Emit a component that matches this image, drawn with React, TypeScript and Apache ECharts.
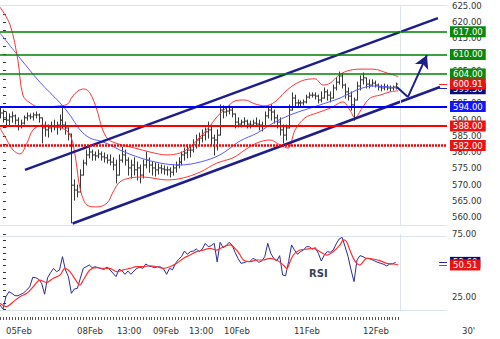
import React, { useEffect, useRef } from 'react';
import * as echarts from 'echarts';

// ---------- DATA ----------
const FIRST_HOUR = -1; // hourly bars, hour 0 = 05Feb 00:00 (trading hours)
const barHighs = [
  593.5, 592.9, 592.3, 591.7, 592.3, 591.4, 590.5, 589.8, 591.1, 592.0,
  591.7, 592.0, 592.3, 591.7, 590.5, 589.2, 588.3, 589.2, 589.8, 589.2,
  591.4, 594.2, 589.2, 587.4, 585.5, 571.4, 569.8, 574.5, 577.5, 580.6,
  581.2, 580.6, 580.0, 580.6, 580.0, 579.7, 579.1, 579.1, 578.2, 577.5,
  579.1, 581.5, 580.6, 578.2, 577.5, 578.2, 576.9, 576.0, 577.5, 580.0,
  578.2, 576.9, 576.6, 576.3, 576.0, 575.7, 575.4, 575.1, 576.0, 576.9,
  578.2, 580.0, 581.2, 582.2, 581.8, 583.7, 585.2, 585.8, 586.8, 587.4,
  589.2, 588.3, 585.2, 586.8, 594.5, 594.2, 593.5, 594.2, 593.5, 591.7,
  590.5, 589.8, 590.5, 589.8, 589.5, 589.8, 590.5, 589.8, 589.2, 592.3,
  594.2, 594.5, 592.9, 591.4, 590.5, 588.3, 588.3, 594.5, 598.2, 597.5,
  596.0, 595.7, 596.0, 597.5, 598.2, 598.2, 598.2, 597.5, 598.5, 599.7,
  599.1, 598.5, 600.6, 602.8, 604.6, 604.0, 600.9, 599.7, 598.5, 596.6,
  601.5, 603.4, 604.3, 602.8, 602.2, 602.2, 601.8, 600.9, 600.6, 600.9,
  600.6, 600.3, 600.3, 601.2,
];
const barLows = [
  590.5, 589.2, 587.7, 588.3, 589.2, 588.6, 586.8, 587.4, 588.6, 589.8,
  590.2, 589.8, 590.5, 589.2, 582.8, 584.9, 584.6, 586.2, 586.8, 585.5,
  586.8, 587.4, 585.5, 583.7, 558.2, 565.2, 566.2, 567.7, 572.9, 576.0,
  578.2, 577.5, 577.5, 578.2, 577.5, 576.9, 576.6, 576.0, 574.5, 570.5,
  572.9, 576.9, 576.0, 572.9, 572.0, 572.9, 571.4, 570.5, 572.0, 575.1,
  573.8, 572.9, 572.6, 573.2, 573.5, 573.2, 572.9, 572.3, 572.9, 573.8,
  575.1, 576.0, 577.5, 578.2, 578.5, 580.0, 581.2, 582.2, 583.1, 583.7,
  584.3, 582.2, 579.1, 580.6, 585.2, 590.5, 591.1, 591.7, 590.8, 587.4,
  587.7, 587.7, 588.3, 587.4, 587.4, 588.0, 588.0, 586.8, 586.5, 588.3,
  590.5, 589.8, 588.9, 587.4, 585.2, 582.8, 583.7, 587.4, 592.9, 593.8,
  594.2, 594.2, 594.5, 595.1, 596.6, 596.9, 596.3, 595.1, 595.4, 596.6,
  596.0, 595.4, 596.6, 599.1, 600.9, 599.7, 596.6, 596.0, 592.9, 589.8,
  596.0, 599.1, 600.9, 599.7, 599.7, 600.3, 600.0, 599.1, 598.8, 599.1,
  599.1, 598.8, 599.1, 599.4,
];
const barCloses = [
  592.0, 590.5, 589.8, 590.8, 591.1, 589.8, 588.0, 588.9, 590.5, 591.1,
  590.8, 591.4, 591.4, 590.5, 587.4, 586.8, 587.4, 588.0, 587.7, 588.3,
  589.8, 588.3, 587.4, 585.5, 569.8, 568.3, 567.7, 572.9, 576.6, 579.1,
  580.0, 579.1, 578.8, 579.4, 578.5, 578.2, 577.5, 576.9, 576.0, 572.9,
  577.5, 579.1, 577.5, 575.1, 576.0, 574.5, 575.1, 572.9, 576.0, 577.5,
  576.0, 575.1, 574.5, 575.1, 574.8, 574.5, 574.5, 573.8, 575.1, 576.0,
  576.9, 579.1, 579.7, 580.6, 580.6, 582.2, 583.7, 584.3, 585.2, 586.2,
  586.8, 584.3, 583.7, 585.2, 592.9, 592.3, 592.6, 592.9, 591.7, 589.2,
  588.6, 589.2, 589.5, 588.6, 588.3, 588.9, 588.6, 588.3, 588.0, 591.1,
  592.9, 592.3, 590.5, 589.2, 586.8, 585.2, 587.4, 592.9, 596.6, 595.1,
  595.1, 595.1, 595.4, 596.9, 597.5, 597.5, 597.2, 596.0, 596.6, 598.5,
  597.5, 596.6, 599.7, 601.5, 603.4, 600.6, 598.5, 597.2, 594.5, 596.0,
  600.3, 602.2, 602.8, 600.9, 600.6, 601.2, 600.6, 600.0, 599.7, 600.0,
  599.7, 599.7, 600.0, 600.91,
];
const rsiValues = [
  18.3, 15.1, 25.0, 29.0, 27.7, 25.8, 25.8, 26.9, 28.2, 30.4,
  33.0, 40.6, 40.3, 39.0, 35.7, 27.0, 40.3, 44.3, 47.8, 45.1,
  46.5, 57.2, 46.5, 41.1, 27.7, 31.2, 31.7, 39.8, 47.8, 49.1,
  50.5, 48.3, 49.1, 48.3, 47.5, 47.0, 48.9, 46.5, 43.8, 41.1,
  47.0, 45.9, 43.0, 45.6, 43.0, 45.6, 47.8, 48.6, 47.8, 51.3,
  49.7, 49.1, 48.3, 49.1, 48.9, 47.3, 43.0, 47.8, 46.7, 51.8,
  55.0, 57.2, 61.7, 59.1, 61.2, 61.7, 63.3, 61.2, 63.3, 67.9,
  65.2, 66.0, 67.9, 53.0, 68.7, 64.4, 66.0, 68.7, 66.6, 60.7,
  55.8, 51.8, 52.4, 53.2, 53.2, 55.8, 54.8, 52.6, 53.7, 57.2,
  67.9, 59.9, 55.8, 53.7, 58.0, 42.4, 41.9, 53.2, 66.6, 62.5,
  59.1, 61.2, 62.5, 65.2, 65.2, 63.3, 64.4, 59.9, 53.7, 58.5,
  61.2, 60.7, 62.5, 67.4, 71.4, 72.7, 65.2, 57.2, 46.5, 37.1,
  54.5, 58.0, 57.2, 55.8, 55.8, 54.8, 53.7, 52.6, 51.8, 51.0,
  49.7, 51.3, 51.5, 52.6,
];
const rsiSignal = [
  [-1.0, 19.7], [1.2, 17.0], [3.5, 21.0], [5.7, 25.0], [8.0, 27.7], [10.2, 33.0],
  [12.4, 38.4], [14.7, 36.5], [16.9, 39.8], [19.2, 42.4], [20.8, 47.8], [22.5, 45.1],
  [24.8, 37.1], [25.9, 34.4], [27.0, 38.4], [29.2, 46.5], [31.5, 48.3], [33.7, 47.8],
  [35.9, 47.8], [38.2, 45.1], [40.4, 46.5], [42.7, 47.8], [44.9, 49.1], [47.2, 49.1],
  [49.4, 49.9], [51.7, 49.1], [53.9, 47.8], [56.1, 49.1], [58.4, 51.8], [60.6, 55.8],
  [62.9, 58.5], [65.1, 61.2], [67.3, 62.5], [69.6, 63.9], [71.8, 62.5], [74.1, 65.2],
  [76.3, 66.6], [78.5, 62.5], [79.7, 58.5], [80.8, 54.5], [83.0, 53.2], [85.3, 54.5],
  [87.5, 54.5], [89.8, 55.8], [92.0, 54.5], [94.2, 50.5], [95.4, 47.8], [96.5, 53.2],
  [97.6, 58.5], [99.8, 62.5], [102.1, 63.3], [104.3, 63.9], [106.6, 61.2], [108.8, 58.5],
  [111.0, 61.2], [113.3, 66.6], [114.4, 70.6], [115.5, 69.2], [116.6, 62.5], [117.8, 55.8],
  [118.9, 51.8], [120.0, 50.5], [121.1, 53.2], [122.2, 55.8], [124.5, 55.3], [126.7, 54.0],
  [129.0, 51.8], [131.2, 51.3], [132.9, 50.51],
];
const maLine = [
  [-1.0, 616.6], [5.7, 608.9], [12.4, 601.5], [19.2, 595.1], [22.5, 591.4], [25.9, 586.8],
  [29.2, 584.3], [32.6, 583.4], [36.0, 582.2], [39.3, 580.6], [46.1, 578.2], [52.8, 576.6],
  [59.5, 576.0], [66.2, 576.9], [72.9, 579.1], [79.7, 583.4], [85.4, 585.8], [90.8, 588.9],
  [96.5, 591.4], [102.2, 593.2], [107.6, 594.8], [113.3, 596.6], [119.0, 599.1],
  [124.4, 600.3], [130.1, 600.0], [132.9, 599.5],
];
const bandUpper = [
  [-1.0, 624.6], [2.4, 619.1], [5.0, 608.3], [6.7, 597.5], [9.1, 595.1], [12.4, 593.8],
  [19.2, 594.2], [21.8, 594.8], [23.2, 596.9], [25.2, 598.8], [27.2, 599.4], [29.2, 598.2],
  [31.6, 592.9], [33.3, 587.4], [35.3, 584.0], [38.7, 582.5], [44.4, 581.2], [49.4, 580.0],
  [55.1, 579.1], [59.5, 579.7], [62.9, 581.5], [66.2, 584.6], [69.6, 588.0], [71.9, 590.8],
  [75.3, 593.8], [78.0, 595.7], [81.3, 596.0], [84.7, 594.8], [88.1, 594.2], [91.4, 595.4],
  [94.8, 598.5], [98.2, 600.9], [101.5, 602.2], [104.9, 602.5], [107.6, 600.6], [110.0, 601.2],
  [112.6, 603.4], [115.6, 604.9], [120.0, 605.5], [124.4, 605.5], [129.1, 604.3], [132.9, 603.2],
];
const bandLower = [
  [-1.0, 587.4], [1.3, 583.7], [3.4, 580.6], [5.7, 579.4], [8.1, 582.8], [10.1, 586.8],
  [13.4, 588.3], [18.2, 587.7], [21.5, 586.5], [23.2, 583.7], [24.5, 577.5], [25.9, 568.9],
  [28.2, 563.7], [31.6, 563.1], [35.0, 564.3], [37.0, 567.7], [39.3, 570.8], [42.7, 572.0],
  [47.1, 572.3], [55.1, 571.4], [60.5, 572.0], [66.2, 573.8], [71.9, 576.6], [77.3, 578.2],
  [81.3, 580.6], [85.4, 582.8], [89.7, 583.7], [93.1, 582.2], [95.8, 581.2], [98.2, 586.8],
  [101.5, 590.5], [105.5, 592.0], [110.0, 593.5], [114.3, 595.4], [116.6, 592.9], [118.3, 590.5],
  [120.7, 593.5], [123.4, 596.6], [126.7, 597.5], [130.1, 598.5], [132.9, 598.8],
];
const channelUpper = [[7.4, 574.5], [146.2, 621.2]];
const channelLower = [[23.4, 558.0], [146.9, 600.0]];
const arrowPath = [[132.4, 600.0], [136.1, 596.9], [142.5, 609.8]];
const resistanceLevels = [617, 610, 604];
const pivotLevel = 594;
const supportLevels = [588, 582];
const lastPrice = 600.91;
const lastMA = 599.5;
const lastRsi = 52.6;
const lastSignal = 50.51;
const priceLabelValues = [560, 565, 570, 575, 580, 585, 590, 595, 600, 605, 610, 615, 620, 625];
const priceTickValues = [
  557.5, 560, 562.5, 565, 567.5, 570, 572.5, 575, 577.5, 580, 582.5, 585, 587.5, 590,
  592.5, 595, 597.5, 600, 602.5, 605, 607.5, 610, 612.5, 615, 617.5, 620, 622.5, 625,
];
const rsiLabelValues = [25, 75];
const rsiTickValues = [15, 20, 25, 30, 35, 40, 45, 50, 55, 60, 65, 70, 75];
const dateLabelHours = [0, 23.9, 37.3, 49.4, 61.5, 73.3, 96.8, 120];
const dateLabelTexts = ['05Feb', '08Feb', '13:00', '09Feb', '13:00', '10Feb', '11Feb', '12Feb'];
const timeframeText = "30'";
const rsiTitle = 'RSI';

// ---------- AXIS RANGES ----------
const X_MIN = -1;
const X_MAX = 149.25;
const NOW_HOUR = 133.5;
const P_MIN = 557.54;
const P_MAX = 625.23;
const R_MIN = 13.75;
const R_MAX = 75.4;
const R_TOP_BORDER = 73.23;

const FONT = 'DejaVu Sans';
const hourTicks: number[] = [];
for (let h = -1; h <= 133; h++) hourTicks.push(h);

const boxLabel = (text: string, bg: string) => ({
  show: true,
  position: 'end',
  distance: 3,
  formatter: text,
  color: '#fff',
  backgroundColor: bg,
  padding: [1, 3, 0, 3],
  fontSize: 8.5,
  lineHeight: 10,
  fontFamily: FONT,
});

const noLabel = { show: false };
const faint = { color: '#dbe4ee', width: 1, type: 'solid' };

export default function App() {
  const ref = useRef<HTMLDivElement>(null);

  useEffect(() => {
    if (!ref.current) return;
    const chart = echarts.init(ref.current, undefined, { renderer: 'svg' });

    const bars = barHighs.map((h, i) => [FIRST_HOUR + i, h, barLows[i], barCloses[i]]);
    const rsiData = rsiValues.map((v, i) => [FIRST_HOUR + i, v]);

    const option: any = {
      animation: false,
      backgroundColor: '#ffffff',
      textStyle: { fontFamily: FONT },
      grid: [
        { left: 0, top: 5, width: 447, height: 220 },
        { left: 0, top: 234, width: 447, height: 76.7 },
      ],
      xAxis: [
        { type: 'value', gridIndex: 0, min: X_MIN, max: X_MAX, show: false },
        {
          type: 'value', gridIndex: 1, min: X_MIN, max: X_MAX, offset: 6.3,
          axisLine: { show: false },
          splitLine: { show: false },
          axisTick: { show: true, customValues: hourTicks, length: 3, lineStyle: { color: '#555', width: 1 } },
          axisLabel: {
            customValues: dateLabelHours,
            formatter: (v: number) => {
              const i = dateLabelHours.findIndex((d) => Math.abs(d - v) < 1e-6);
              return i >= 0 ? dateLabelTexts[i] : '';
            },
            align: 'left', padding: [0, 0, 0, 3], margin: 9,
            color: '#333', fontSize: 8.5, fontFamily: FONT,
          },
        },
      ],
      yAxis: [
        {
          type: 'value', gridIndex: 0, position: 'right', min: P_MIN, max: P_MAX,
          axisLine: { show: false }, splitLine: { show: false },
          axisTick: { show: true, customValues: priceTickValues, length: 3, lineStyle: { color: '#333' } },
          axisLabel: {
            customValues: priceLabelValues, formatter: (v: number) => v.toFixed(2),
            color: '#333', fontSize: 8.5, margin: 5, fontFamily: FONT,
          },
        },
        {
          type: 'value', gridIndex: 1, position: 'right', min: R_MIN, max: R_MAX,
          axisLine: { show: false }, splitLine: { show: false },
          axisTick: { show: true, customValues: rsiTickValues, length: 3, lineStyle: { color: '#333' } },
          axisLabel: {
            customValues: rsiLabelValues, formatter: (v: number) => v.toFixed(2),
            color: '#333', fontSize: 8.5, margin: 5, fontFamily: FONT,
          },
        },
      ],
      graphic: [
        { type: 'text', left: 309, top: 268, style: { text: rsiTitle, fill: '#34435a', font: `bold 10px ${FONT}` } },
        { type: 'text', left: 462, top: 326, style: { text: timeframeText, fill: '#333', font: `8.5px ${FONT}` } },
      ],
      series: [
        {
          name: 'bandUpper', type: 'line', xAxisIndex: 0, yAxisIndex: 0, data: bandUpper,
          smooth: 0.35, showSymbol: false, silent: true,
          lineStyle: { color: '#ff3434', width: 1 },
        },
        {
          name: 'bandLower', type: 'line', xAxisIndex: 0, yAxisIndex: 0, data: bandLower,
          smooth: 0.35, showSymbol: false, silent: true,
          lineStyle: { color: '#ff3434', width: 1 },
        },
        {
          name: 'ma', type: 'line', xAxisIndex: 0, yAxisIndex: 0, data: maLine,
          smooth: 0.35, showSymbol: false, silent: true,
          lineStyle: { color: '#5a5aff', width: 1 },
          markLine: {
            silent: true, symbol: ['none', 'none'], animation: false,
            data: [
              { yAxis: P_MAX, lineStyle: faint, label: noLabel },
              { yAxis: P_MIN, lineStyle: faint, label: noLabel },
              { xAxis: NOW_HOUR, lineStyle: faint, label: noLabel },
              [
                { coord: [146.6, lastMA], lineStyle: { color: '#2020c0', width: 1, type: 'solid' }, label: boxLabel(lastMA.toFixed(2), '#0a0a78') },
                { coord: [X_MAX, lastMA] },
              ],
            ],
          },
        },
        {
          name: 'price', type: 'custom', xAxisIndex: 0, yAxisIndex: 0, data: bars,
          encode: { x: 0, y: [1, 2, 3] }, silent: true,
          renderItem: (params: any, api: any) => {
            const h = api.value(0), hi = api.value(1), lo = api.value(2), cl = api.value(3);
            const idx = params.dataIndex;
            const op = idx > 0 ? barCloses[idx - 1] : cl;
            const pHi = api.coord([h, hi]);
            const pLo = api.coord([h, lo]);
            const pCl = api.coord([h, cl]);
            const pOp = api.coord([h, op]);
            const x = Math.round(pHi[0]) + 0.5;
            const st = { stroke: '#383838', lineWidth: 1 };
            return {
              type: 'group',
              children: [
                { type: 'line', shape: { x1: x, y1: pHi[1] - 0.5, x2: x, y2: pLo[1] + 0.5 }, style: st },
                { type: 'line', shape: { x1: x - 1.5, y1: pOp[1], x2: x, y2: pOp[1] }, style: st },
                { type: 'line', shape: { x1: x, y1: pCl[1], x2: x + 1.5, y2: pCl[1] }, style: st },
              ],
            };
          },
        },
        {
          name: 'channelUpper', type: 'line', xAxisIndex: 0, yAxisIndex: 0, data: channelUpper,
          showSymbol: false, silent: true, lineStyle: { color: '#1e1e8a', width: 2.5 },
          markLine: {
            silent: true, symbol: ['none', 'none'], animation: false,
            data: [
              ...resistanceLevels.map((v) => ({
                yAxis: v, lineStyle: { color: '#008000', width: 1.5, type: 'solid' },
                label: boxLabel(v.toFixed(2), '#0a880a'),
              })),
              {
                yAxis: pivotLevel, lineStyle: { color: '#0000ff', width: 2, type: 'solid' },
                label: boxLabel(pivotLevel.toFixed(2), '#1414ff'),
              },
              {
                yAxis: supportLevels[0], lineStyle: { color: '#ff0000', width: 2, type: 'solid' },
                label: boxLabel(supportLevels[0].toFixed(2), '#ee1111'),
              },
              {
                yAxis: supportLevels[1], lineStyle: { color: '#ff0000', width: 2.5, type: [2, 1] },
                label: boxLabel(supportLevels[1].toFixed(2), '#ee1111'),
              },
            ],
          },
        },
        {
          name: 'channelLower', type: 'line', xAxisIndex: 0, yAxisIndex: 0, data: channelLower,
          showSymbol: false, silent: true, lineStyle: { color: '#1e1e8a', width: 2.5 },
          markLine: {
            silent: true, symbol: ['none', 'none'], animation: false,
            data: [
              [
                { coord: arrowPath[0], lineStyle: { color: '#1e1e8a', width: 2, type: 'solid' }, label: noLabel },
                { coord: arrowPath[1] },
              ],
              [
                { coord: arrowPath[1], lineStyle: { color: '#1e1e8a', width: 2, type: 'solid' }, label: noLabel },
                { coord: arrowPath[2], symbol: 'arrow', symbolSize: [11, 13] },
              ],
              [
                { coord: [146.6, lastPrice], lineStyle: { color: '#ff2020', width: 1, type: 'solid' }, label: boxLabel(lastPrice.toFixed(2), '#ee1111') },
                { coord: [X_MAX, lastPrice] },
              ],
            ],
          },
        },
        {
          name: 'rsi', type: 'line', xAxisIndex: 1, yAxisIndex: 1, data: rsiData,
          showSymbol: false, silent: true, lineStyle: { color: '#2a2a9c', width: 1 },
          markLine: {
            silent: true, symbol: ['none', 'none'], animation: false,
            data: [
              { yAxis: R_TOP_BORDER, lineStyle: faint, label: noLabel },
              { yAxis: R_MIN, lineStyle: faint, label: noLabel },
              { xAxis: NOW_HOUR, lineStyle: faint, label: noLabel },
              [
                { coord: [146.6, lastRsi], lineStyle: { color: '#2020a0', width: 1, type: 'solid' }, label: boxLabel(lastRsi.toFixed(2), '#0a0a78') },
                { coord: [X_MAX, lastRsi] },
              ],
            ],
          },
        },
        {
          name: 'rsiSignal', type: 'line', xAxisIndex: 1, yAxisIndex: 1, data: rsiSignal,
          smooth: 0.3, showSymbol: false, silent: true, lineStyle: { color: '#ff3030', width: 1.2 },
          markLine: {
            silent: true, symbol: ['none', 'none'], animation: false,
            data: [
              [
                { coord: [146.6, lastSignal], lineStyle: { color: '#ff2020', width: 1, type: 'solid' }, label: boxLabel(lastSignal.toFixed(2), '#ee1111') },
                { coord: [X_MAX, lastSignal] },
              ],
            ],
          },
        },
      ],
    };

    chart.setOption(option);
    return () => chart.dispose();
  }, []);

  return (
    <div
      ref={ref}
      style={{ position: 'absolute', left: 0, top: 0, width: 500, height: 339, background: '#fff' }}
    />
  );
}
